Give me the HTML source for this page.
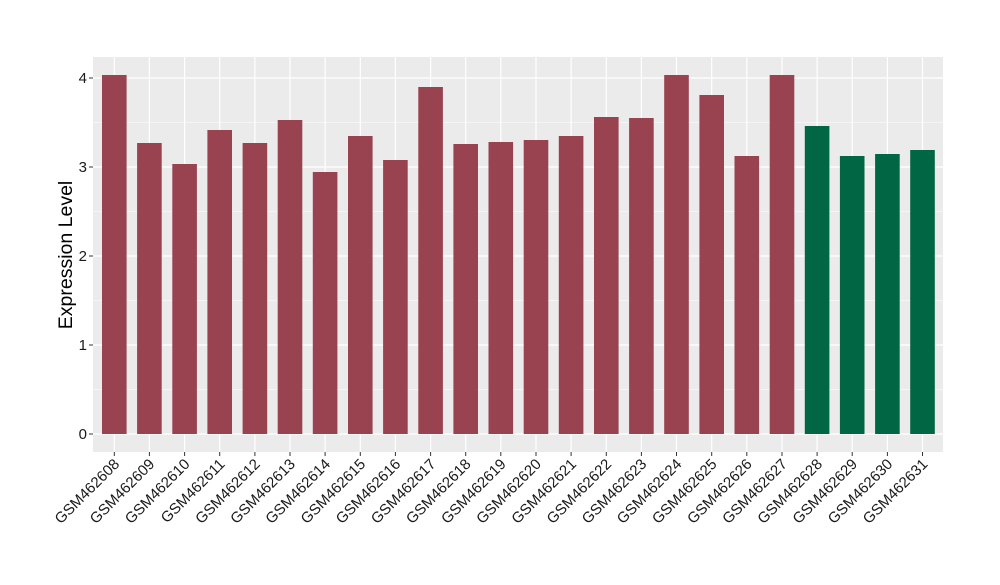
<!DOCTYPE html>
<html><head><style>body{margin:0;background:#fff}</style></head><body>
<svg width="1000" height="580" xmlns="http://www.w3.org/2000/svg" font-family="Liberation Sans, sans-serif">
<rect x="0" y="0" width="1000" height="580" fill="#fff"/>
<rect x="93" y="57" width="850" height="395" fill="#EBEBEB"/>
<g stroke="#fff" stroke-width="0.6">
<line x1="93" x2="943" y1="389.5" y2="389.5"/><line x1="93" x2="943" y1="300.5" y2="300.5"/><line x1="93" x2="943" y1="211.5" y2="211.5"/><line x1="93" x2="943" y1="122.5" y2="122.5"/>
</g>
<g stroke="#fff" stroke-width="1.2">
<line x1="93" x2="943" y1="434" y2="434"/><line x1="93" x2="943" y1="345" y2="345"/><line x1="93" x2="943" y1="256" y2="256"/><line x1="93" x2="943" y1="167" y2="167"/><line x1="93" x2="943" y1="78" y2="78"/>
<line x1="114.3" x2="114.3" y1="57" y2="452"/><line x1="149.4" x2="149.4" y1="57" y2="452"/><line x1="184.6" x2="184.6" y1="57" y2="452"/><line x1="219.7" x2="219.7" y1="57" y2="452"/><line x1="254.9" x2="254.9" y1="57" y2="452"/><line x1="290" x2="290" y1="57" y2="452"/><line x1="325.1" x2="325.1" y1="57" y2="452"/><line x1="360.3" x2="360.3" y1="57" y2="452"/><line x1="395.4" x2="395.4" y1="57" y2="452"/><line x1="430.6" x2="430.6" y1="57" y2="452"/><line x1="465.7" x2="465.7" y1="57" y2="452"/><line x1="500.8" x2="500.8" y1="57" y2="452"/><line x1="536" x2="536" y1="57" y2="452"/><line x1="571.1" x2="571.1" y1="57" y2="452"/><line x1="606.3" x2="606.3" y1="57" y2="452"/><line x1="641.4" x2="641.4" y1="57" y2="452"/><line x1="676.5" x2="676.5" y1="57" y2="452"/><line x1="711.7" x2="711.7" y1="57" y2="452"/><line x1="746.8" x2="746.8" y1="57" y2="452"/><line x1="782" x2="782" y1="57" y2="452"/><line x1="817.1" x2="817.1" y1="57" y2="452"/><line x1="852.2" x2="852.2" y1="57" y2="452"/><line x1="887.4" x2="887.4" y1="57" y2="452"/><line x1="922.5" x2="922.5" y1="57" y2="452"/>
</g>
<g fill="#994250">
<rect x="102" y="75" width="24.6" height="359"/>
<rect x="137.1" y="143" width="24.6" height="291"/>
<rect x="172.3" y="164" width="24.6" height="270"/>
<rect x="207.4" y="130" width="24.6" height="304"/>
<rect x="242.6" y="143" width="24.6" height="291"/>
<rect x="277.7" y="120" width="24.6" height="314"/>
<rect x="312.8" y="172" width="24.6" height="262"/>
<rect x="348" y="136" width="24.6" height="298"/>
<rect x="383.1" y="160" width="24.6" height="274"/>
<rect x="418.3" y="87" width="24.6" height="347"/>
<rect x="453.4" y="144" width="24.6" height="290"/>
<rect x="488.5" y="142" width="24.6" height="292"/>
<rect x="523.7" y="140" width="24.6" height="294"/>
<rect x="558.8" y="136" width="24.6" height="298"/>
<rect x="594" y="117" width="24.6" height="317"/>
<rect x="629.1" y="118" width="24.6" height="316"/>
<rect x="664.2" y="75" width="24.6" height="359"/>
<rect x="699.4" y="95" width="24.6" height="339"/>
<rect x="734.5" y="156" width="24.6" height="278"/>
<rect x="769.7" y="75" width="24.6" height="359"/>
</g>
<g fill="#006644">
<rect x="804.8" y="126" width="24.6" height="308"/>
<rect x="839.9" y="156" width="24.6" height="278"/>
<rect x="875.1" y="154" width="24.6" height="280"/>
<rect x="910.2" y="150" width="24.6" height="284"/>
</g>
<g stroke="#333" stroke-width="1">
<line x1="89" x2="93" y1="434" y2="434"/><line x1="89" x2="93" y1="345" y2="345"/><line x1="89" x2="93" y1="256" y2="256"/><line x1="89" x2="93" y1="167" y2="167"/><line x1="89" x2="93" y1="78" y2="78"/>
<line x1="114.3" x2="114.3" y1="452" y2="456"/><line x1="149.4" x2="149.4" y1="452" y2="456"/><line x1="184.6" x2="184.6" y1="452" y2="456"/><line x1="219.7" x2="219.7" y1="452" y2="456"/><line x1="254.9" x2="254.9" y1="452" y2="456"/><line x1="290" x2="290" y1="452" y2="456"/><line x1="325.1" x2="325.1" y1="452" y2="456"/><line x1="360.3" x2="360.3" y1="452" y2="456"/><line x1="395.4" x2="395.4" y1="452" y2="456"/><line x1="430.6" x2="430.6" y1="452" y2="456"/><line x1="465.7" x2="465.7" y1="452" y2="456"/><line x1="500.8" x2="500.8" y1="452" y2="456"/><line x1="536" x2="536" y1="452" y2="456"/><line x1="571.1" x2="571.1" y1="452" y2="456"/><line x1="606.3" x2="606.3" y1="452" y2="456"/><line x1="641.4" x2="641.4" y1="452" y2="456"/><line x1="676.5" x2="676.5" y1="452" y2="456"/><line x1="711.7" x2="711.7" y1="452" y2="456"/><line x1="746.8" x2="746.8" y1="452" y2="456"/><line x1="782" x2="782" y1="452" y2="456"/><line x1="817.1" x2="817.1" y1="452" y2="456"/><line x1="852.2" x2="852.2" y1="452" y2="456"/><line x1="887.4" x2="887.4" y1="452" y2="456"/><line x1="922.5" x2="922.5" y1="452" y2="456"/>
</g>
<g font-size="15" fill="#1a1a1a" text-anchor="end">
<text x="87" y="439">0</text><text x="87" y="350">1</text><text x="87" y="261">2</text><text x="87" y="172">3</text><text x="87" y="83">4</text>
</g>
<g font-size="15" fill="#1a1a1a" text-anchor="end">
<text transform="translate(120.3,465) rotate(-45)">GSM462608</text>
<text transform="translate(155.4,465) rotate(-45)">GSM462609</text>
<text transform="translate(190.6,465) rotate(-45)">GSM462610</text>
<text transform="translate(225.7,465) rotate(-45)">GSM462611</text>
<text transform="translate(260.9,465) rotate(-45)">GSM462612</text>
<text transform="translate(296,465) rotate(-45)">GSM462613</text>
<text transform="translate(331.1,465) rotate(-45)">GSM462614</text>
<text transform="translate(366.3,465) rotate(-45)">GSM462615</text>
<text transform="translate(401.4,465) rotate(-45)">GSM462616</text>
<text transform="translate(436.6,465) rotate(-45)">GSM462617</text>
<text transform="translate(471.7,465) rotate(-45)">GSM462618</text>
<text transform="translate(506.8,465) rotate(-45)">GSM462619</text>
<text transform="translate(542,465) rotate(-45)">GSM462620</text>
<text transform="translate(577.1,465) rotate(-45)">GSM462621</text>
<text transform="translate(612.3,465) rotate(-45)">GSM462622</text>
<text transform="translate(647.4,465) rotate(-45)">GSM462623</text>
<text transform="translate(682.5,465) rotate(-45)">GSM462624</text>
<text transform="translate(717.7,465) rotate(-45)">GSM462625</text>
<text transform="translate(752.8,465) rotate(-45)">GSM462626</text>
<text transform="translate(788,465) rotate(-45)">GSM462627</text>
<text transform="translate(823.1,465) rotate(-45)">GSM462628</text>
<text transform="translate(858.2,465) rotate(-45)">GSM462629</text>
<text transform="translate(893.4,465) rotate(-45)">GSM462630</text>
<text transform="translate(928.5,465) rotate(-45)">GSM462631</text>
</g>
<text transform="translate(72,255) rotate(-90)" text-anchor="middle" font-size="19.5" fill="#000">Expression Level</text>
</svg>
</body></html>
